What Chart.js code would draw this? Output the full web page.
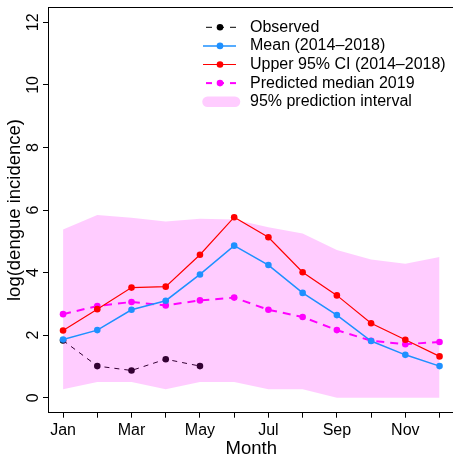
<!DOCTYPE html>
<html>
<head>
<meta charset="utf-8">
<script src="https://cdn.jsdelivr.net/npm/chart.js@4/dist/chart.umd.min.js"></script>
<style>
  html, body { margin: 0; padding: 0; overflow: hidden; background: #fff; }
  #wrap { width: 460px; height: 457px; }
</style>
</head>
<body>
<div id="wrap"><canvas id="myChart" width="460" height="457"></canvas></div>
<script>
// data
var months = ['Jan', 'Feb', 'Mar', 'Apr', 'May', 'Jun', 'Jul', 'Aug', 'Sep', 'Oct', 'Nov', 'Dec'];
var shownMonths = ['Jan', 'Mar', 'May', 'Jul', 'Sep', 'Nov'];

var observed   = [1.83, 1.01, 0.87, 1.23, 1.01];
var meanVals   = [1.86, 2.16, 2.81, 3.10, 3.94, 4.86, 4.24, 3.35, 2.64, 1.81, 1.37, 1.01];
var upperCI    = [2.15, 2.83, 3.52, 3.55, 4.57, 5.77, 5.13, 4.01, 3.27, 2.38, 1.85, 1.32];
var predMedian = [2.67, 2.93, 3.06, 2.95, 3.11, 3.20, 2.81, 2.58, 2.16, 1.82, 1.71, 1.78];
var piUpper    = [5.38, 5.84, 5.75, 5.63, 5.72, 5.70, 5.45, 5.25, 4.72, 4.42, 4.28, 4.50];
var piLower    = [0.27, 0.50, 0.50, 0.27, 0.50, 0.50, 0.27, 0.27, 0.00, 0.00, 0.00, 0.00];

var legendLabels = ['Observed', 'Mean (2014\u20132018)', 'Upper 95% CI (2014\u20132018)', 'Predicted median 2019', '95% prediction interval'];

var fontName = '"Liberation Sans", Arial, Helvetica, sans-serif';

function pts(vals) {
  return vals.map(function (v, i) { return { x: i + 1, y: v }; });
}

// order: higher number is drawn first (observed sits under the band, the rest on top)
function lineSet(vals, color, width, dash, order) {
  return {
    data: pts(vals),
    borderColor: color,
    backgroundColor: color,
    borderWidth: width,
    borderDash: dash,
    pointRadius: 3.3,
    pointBorderWidth: 0,
    pointBackgroundColor: color,
    fill: false,
    tension: 0,
    order: order
  };
}

var sets = [
  lineSet(observed, '#000000', 1, [5, 5], 3),
  lineSet(meanVals, '#1E90FF', 1.5, [], 1),
  lineSet(upperCI, '#FF0000', 1.2, [], 1),
  lineSet(predMedian, '#FF00FF', 2, [8, 6], 1),
  {
    data: pts(piLower),
    borderWidth: 0,
    borderColor: 'rgba(0,0,0,0)',
    pointRadius: 0,
    fill: false,
    order: 2
  },
  {
    data: pts(piUpper),
    borderWidth: 0,
    borderColor: 'rgba(0,0,0,0)',
    backgroundColor: 'rgba(255,0,255,0.2)',
    pointRadius: 0,
    fill: '-1',
    order: 2
  }
];

var extras = {
  id: 'extras',
  afterDraw: function (chart) {
    var ctx = chart.ctx;
    var a = chart.chartArea;
    ctx.save();

    // top edge of the box (right edge falls outside the picture)
    ctx.strokeStyle = '#000';
    ctx.lineWidth = 1;
    ctx.beginPath();
    ctx.moveTo(Math.round(a.left) + 0.5, Math.round(a.top) + 0.5);
    ctx.lineTo(chart.width, Math.round(a.top) + 0.5);
    ctx.stroke();

    // y tick labels, turned like the reference
    var ys = chart.scales.y;
    ctx.fillStyle = '#000';
    ctx.font = '16px ' + fontName;
    ctx.textAlign = 'center';
    ctx.textBaseline = 'middle';
    ys.ticks.forEach(function (t) {
      var py = ys.getPixelForValue(t.value);
      ctx.save();
      ctx.translate(34, py);
      ctx.rotate(-Math.PI / 2);
      ctx.fillText(String(t.value), 0, 0);
      ctx.restore();
    });

    // legend
    var x0 = 206, x1 = 236, px = 220, tx = 250;
    for (var i = 0; i < legendLabels.length; i++) {
      var yy = 27.3 + i * 18.6;
      if (i < 4) {
        var ds = chart.data.datasets[i];
        ctx.strokeStyle = ds.borderColor;
        ctx.lineWidth = ds.borderWidth;
        ctx.setLineDash(ds.borderDash.length ? [6, 6] : []);
        ctx.beginPath();
        ctx.moveTo(ds.borderDash.length ? x0 : 203, yy);
        ctx.lineTo(x1, yy);
        ctx.stroke();
        ctx.setLineDash([]);
        ctx.fillStyle = ds.borderColor;
        ctx.beginPath();
        ctx.arc(px, yy, 3.3, 0, Math.PI * 2);
        ctx.fill();
      } else {
        ctx.strokeStyle = '#FFCCFF';
        ctx.lineWidth = 10.5;
        ctx.lineCap = 'round';
        ctx.beginPath();
        ctx.moveTo(207.5, yy);
        ctx.lineTo(235, yy);
        ctx.stroke();
        ctx.lineCap = 'butt';
      }
      ctx.fillStyle = '#000';
      ctx.textAlign = 'left';
      ctx.textBaseline = 'middle';
      ctx.font = '16px ' + fontName;
      ctx.fillText(legendLabels[i], tx, yy);
    }
    ctx.restore();
  }
};

var ctx = document.getElementById('myChart').getContext('2d');
var myChart = new Chart(ctx, {
  type: 'line',
  data: { datasets: sets },
  plugins: [extras],
  options: {
    responsive: false,
    animation: false,
    layout: { padding: { top: 7.3, left: 0, right: 5.4, bottom: 0 } },
    plugins: { legend: { display: false }, tooltip: { enabled: false } },
    scales: {
      x: {
        type: 'linear',
        min: 0.56,
        max: 12.44,
        afterFit: function (s) { s.height = 44.3; },
        border: { display: true, color: '#000', width: 1 },
        grid: { drawOnChartArea: false, drawTicks: true, tickLength: 5, tickColor: '#000' },
        ticks: {
          stepSize: 1,
          includeBounds: false,
          autoSkip: false,
          maxRotation: 0,
          padding: 3,
          color: '#000',
          font: { family: fontName, size: 16 },
          callback: function (v) {
            var m = months[v - 1];
            return shownMonths.indexOf(m) >= 0 ? m : '';
          }
        },
        title: {
          display: true,
          text: 'Month',
          color: '#000',
          font: { family: fontName, size: 18.5, lineHeight: 1 },
          padding: { top: 0, bottom: -1.5 }
        }
      },
      y: {
        type: 'linear',
        min: -0.48,
        max: 12.48,
        afterFit: function (s) { s.width = 48; },
        border: { display: true, color: '#000', width: 1 },
        grid: { drawOnChartArea: false, drawTicks: true, tickLength: 5, tickColor: '#000' },
        ticks: { stepSize: 2, includeBounds: false, display: false },
        title: {
          display: true,
          text: 'log(dengue incidence)',
          color: '#000',
          font: { family: fontName, size: 18.5, lineHeight: 1 },
          padding: { top: 6, bottom: 0 }
        }
      }
    }
  }
});
</script>
</body>
</html>
